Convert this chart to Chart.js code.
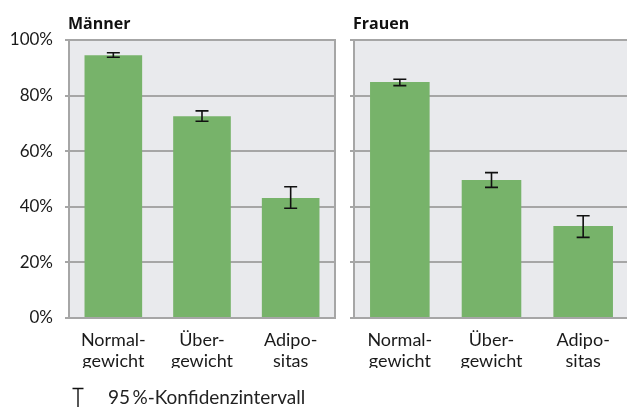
<!DOCTYPE html>
<html>
<head>
<meta charset="utf-8">
<script src="https://cdn.jsdelivr.net/npm/chart.js@4.4.1/dist/chart.umd.min.js"></script>
<style>
  html, body { margin: 0; padding: 0; background: #fff; overflow: hidden; width: 627px; height: 407px; }
  canvas { position: absolute; top: 0; }
  #left { left: 0; }
  #right { left: 340px; }
</style>
</head>
<body>
<canvas id="left" width="345" height="407"></canvas>
<canvas id="right" width="300" height="407"></canvas>
<script>
const categories = [['Normal-', 'gewicht'], ['Über-', 'gewicht'], ['Adipo-', 'sitas']];
const menValues = [94.5, 72.6, 43.2];
const menLow = [93.8, 70.8, 39.5];
const menHigh = [95.4, 74.5, 47.2];
const womenValues = [84.9, 49.6, 33.1];
const womenLow = [83.6, 47.0, 29.0];
const womenHigh = [85.9, 52.3, 36.8];
const yTicks = [0, 20, 40, 60, 80, 100];

const green = '#77b36a';
const plotBg = '#e9eaed';
const gridGrey = '#a6a6a6';
const font = 'Lato, "Open Sans", sans-serif';

// background, right border, error bars, panel title, legend
const panelPlugin = {
  id: 'panel',
  beforeDraw(chart, args, opts) {
    const a = chart.chartArea;
    const ctx = chart.ctx;
    ctx.save();
    ctx.fillStyle = plotBg;
    ctx.fillRect(a.left, a.top, a.right - a.left, a.bottom - a.top);
    ctx.restore();
  },
  afterDraw(chart, args, opts) {
    const a = chart.chartArea;
    const ctx = chart.ctx;
    const x = chart.scales.x, y = chart.scales.y;
    ctx.save();
    ctx.strokeStyle = gridGrey;
    ctx.lineWidth = 2;
    ctx.beginPath();
    ctx.moveTo(a.right, a.top - 1);
    ctx.lineTo(a.right, a.bottom + 1);
    ctx.stroke();

    // error bars
    ctx.strokeStyle = '#111';
    ctx.lineWidth = 1.6;
    opts.low.forEach((lo, i) => {
      const px = x.getPixelForValue(i);
      const y1 = y.getPixelForValue(lo), y2 = y.getPixelForValue(opts.high[i]);
      ctx.beginPath();
      ctx.moveTo(px, y1); ctx.lineTo(px, y2);
      ctx.moveTo(px - 6.5, y1); ctx.lineTo(px + 6.5, y1);
      ctx.moveTo(px - 6.5, y2); ctx.lineTo(px + 6.5, y2);
      ctx.stroke();
    });

    // title
    ctx.fillStyle = '#111';
    ctx.font = 'bold 16px "Open Sans", sans-serif';
    ctx.textBaseline = 'alphabetic';
    ctx.textAlign = 'left';
    ctx.fillText(opts.title, a.left - 1, 29);

    if (opts.legend) {
      ctx.strokeStyle = '#111';
      ctx.lineWidth = 1.4;
      ctx.beginPath();
      ctx.moveTo(72.5, 388.5); ctx.lineTo(83.5, 388.5);
      ctx.moveTo(78, 388.5); ctx.lineTo(78, 407);
      ctx.stroke();
      ctx.font = '19px ' + font;
      ctx.fillStyle = '#222';
      ctx.fillText('95\u2009%-Konfidenzintervall', 108, 404);
    }
    ctx.restore();
  }
};

function makeChart(id, values, low, high, title, showLabels, axisWidth, legend, padRight) {
  return new Chart(document.getElementById(id), {
    type: 'bar',
    data: {
      labels: categories,
      datasets: [{
        data: values,
        backgroundColor: green,
        borderWidth: 0,
        barPercentage: 0.65,
        categoryPercentage: 1
      }]
    },
    options: {
      responsive: false,
      animation: false,
      devicePixelRatio: 1,
      layout: { padding: { top: 40, right: padRight, bottom: 39, left: 0 } },
      plugins: {
        legend: { display: false },
        tooltip: { enabled: false },
        panel: { title: title, low: low, high: high, legend: legend }
      },
      scales: {
        x: {
          grid: { display: false, drawTicks: false },
          border: { display: true, color: gridGrey, width: 2 },
          ticks: { color: '#1a1a1a', font: { family: font, size: 18, lineHeight: 1.2 }, padding: 11, maxRotation: 0 },
          afterFit(s) { s.height = 50; }
        },
        y: {
          min: 0,
          max: 100,
          afterBuildTicks(s) { s.ticks = yTicks.map(v => ({ value: v })); },
          grid: { color: gridGrey, lineWidth: 2, tickLength: 4, drawTicks: true },
          border: { display: true, color: gridGrey, width: 2 },
          ticks: {
            color: showLabels ? '#1a1a1a' : 'rgba(0,0,0,0)',
            font: { family: font, size: 17 },
            padding: 12,
            callback: v => v + '%'
          },
          afterFit(s) { s.width = axisWidth; }
        }
      }
    },
    plugins: [panelPlugin]
  });
}

makeChart('left', menValues, menLow, menHigh, 'Männer', true, 69, true, 10);
makeChart('right', womenValues, womenLow, womenHigh, 'Frauen', false, 14, false, 11);
</script>
</body>
</html>
